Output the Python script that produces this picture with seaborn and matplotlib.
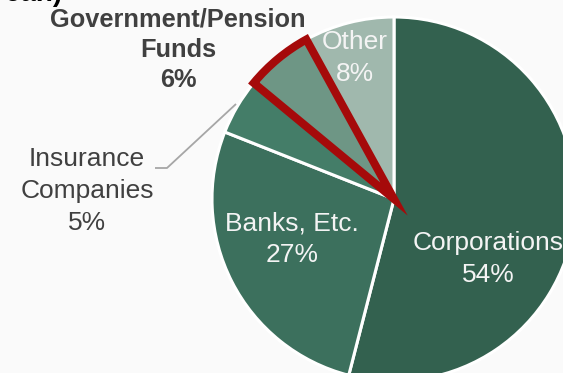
import matplotlib
matplotlib.use("Agg")
import matplotlib.pyplot as plt
import seaborn as sns

sns.set_theme(style="white")
plt.rcParams["font.family"] = ["Liberation Sans", "DejaVu Sans"]

# Shareholding breakdown by holder type
holders = ["Corporations", "Banks, Etc.", "Insurance\nCompanies",
           "Government/Pension\nFunds", "Other"]
shares = [54, 27, 5, 6, 8]
colors = ["#33614f", "#3c705d", "#447d68", "#6e9685", "#a0b8ad"]

W, H, DPI = 563, 373, 100
BG = "#fafafa"
fig = plt.figure(figsize=(W / DPI, H / DPI), dpi=DPI, facecolor=BG)
ax = fig.add_axes([0, 0, 1, 1])
ax.set_facecolor(BG)

# pie centre and radius in pixels; axes limits keep one unit == radius
cx, cy, R = 394, 199, 182


def px(x, y):
    return (x - cx) / R, (cy - y) / R


wedges, _ = ax.pie(shares, colors=colors, startangle=90, counterclock=False,
                   radius=1, wedgeprops=dict(edgecolor="white", linewidth=2.2))
ax.set_xlim(-cx / R, (W - cx) / R)
ax.set_ylim(-(H - cy) / R, cy / R)
ax.set_aspect("auto")
ax.axis("off")

# highlight the government / pension slice
gov = wedges[3]
gov.set_edgecolor("#a50a0a")
gov.set_linewidth(5.8)
gov.set_joinstyle("miter")
gov.set_zorder(5)

label_dark = "#404040"
label_light = "#f4f4f4"
fs = 19
ls = 1.4

ax.text(*px(488, 259), f"{holders[0]}\n{shares[0]}%", ha="center", va="center",
        color=label_light, fontsize=fs, linespacing=ls)
ax.text(*px(292, 239), f"{holders[1]}\n{shares[1]}%", ha="center", va="center",
        color=label_light, fontsize=fs, linespacing=ls)
ax.text(*px(87, 191), f"{holders[2]}\n{shares[2]}%", ha="center", va="center",
        color=label_dark, fontsize=fs, linespacing=ls)
ax.text(*px(178, 50), f"{holders[3]}\n{shares[3]}%", ha="center", va="center",
        color=label_dark, fontsize=18.3, fontweight="bold", linespacing=1.33)
ax.text(*px(355, 58), f"{holders[4]}\n{shares[4]}%", ha="center", va="center",
        color=label_light, fontsize=fs, linespacing=ls)

# leader line for the insurance slice
lx, ly = zip(px(155, 168), px(167, 168), px(236, 104))
ax.plot(lx, ly, color="#a6a6a6", linewidth=1.3, solid_capstyle="butt")

# heading running off the top edge
ax.text(*px(63, 1), "(Korean)", ha="right", va="baseline",
        color="black", fontsize=20, fontweight="bold")

fig.savefig("out.png", dpi=DPI, facecolor=BG)
